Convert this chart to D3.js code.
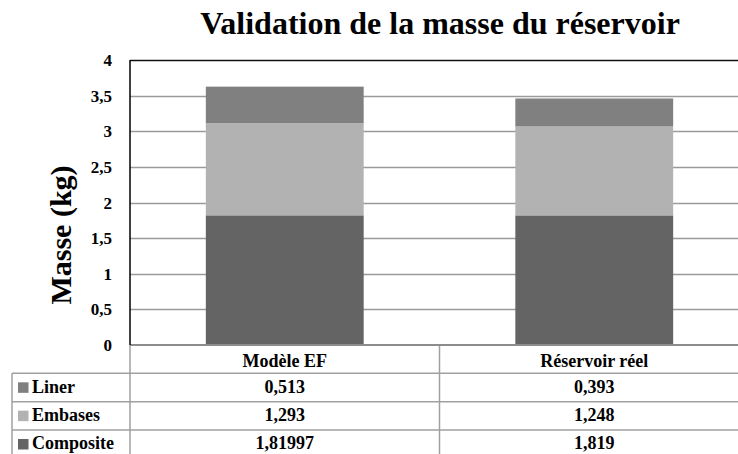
<!DOCTYPE html>
<html>
<head>
<meta charset="utf-8">
<script src="https://cdn.jsdelivr.net/npm/d3@7/dist/d3.min.js"></script>
</head>
<body style="margin:0;padding:0;background:#fff">
<svg id="chart" width="738" height="454" style="display:block"></svg>
<script>
// Mass breakdown of the tank: FE model vs. real part
const categories = ["Modèle EF", "Réservoir réel"];
const seriesNames = ["Liner", "Embases", "Composite"];      // table order (top to bottom)
const liner = [0.513, 0.393];
const embases = [1.293, 1.248];
const composite = [1.81997, 1.819];
const valueLabels = {
  Liner: ["0,513", "0,393"],
  Embases: ["1,293", "1,248"],
  Composite: ["1,81997", "1,819"]
};
const yTicks = [0, 0.5, 1, 1.5, 2, 2.5, 3, 3.5, 4];
const colors = { Liner: "#808080", Embases: "#b2b2b2", Composite: "#646464" };

const FONT = '"Liberation Serif"';
const svg = d3.select("#chart");
const W = 738, H = 454;

const plot = { left: 130, right: 749, top: 60, bottom: 345 };
const rowH = 28.33;
const tableLeft = 12;

const x = d3.scaleBand().domain(categories).range([plot.left, plot.right]);
const y = d3.scaleLinear().domain([0, 4]).range([plot.bottom, plot.top]);

const fmt = v => String(v).replace(".", ",");

function label(sel) {
  return sel.style("font-family", FONT).style("font-weight", "bold").attr("fill", "#000");
}

// Title
label(svg.append("text"))
  .attr("x", 440).attr("y", 34)
  .attr("text-anchor", "middle")
  .style("font-size", "32px")
  .text("Validation de la masse du réservoir");

// Y axis title
label(svg.append("text"))
  .attr("transform", "translate(71,235) rotate(-90)")
  .attr("text-anchor", "middle")
  .style("font-size", "30px")
  .text("Masse (kg)");

// Gridlines
svg.append("g").selectAll("line")
  .data(yTicks.filter(t => t > 0 && t < 4))
  .join("line")
  .attr("x1", plot.left).attr("x2", W)
  .attr("y1", d => Math.round(y(d)) + 0.5).attr("y2", d => Math.round(y(d)) + 0.5)
  .attr("stroke", "#9a9a9a").attr("stroke-width", 1.3);

// Top border of plot area
svg.append("line")
  .attr("x1", plot.left).attr("x2", W)
  .attr("y1", y(4) + 0.5).attr("y2", y(4) + 0.5)
  .attr("stroke", "#111").attr("stroke-width", 1.5);

// Stacked bars
const rows = categories.map((c, i) => ({
  cat: c, Composite: composite[i], Embases: embases[i], Liner: liner[i]
}));
const stack = d3.stack().keys(["Composite", "Embases", "Liner"])(rows);
const barW = x.bandwidth() * 0.51;

svg.append("g").selectAll("g")
  .data(stack)
  .join("g")
  .attr("fill", d => colors[d.key])
  .selectAll("rect")
  .data(d => d)
  .join("rect")
  .attr("x", d => x(d.data.cat) + (x.bandwidth() - barW) / 2)
  .attr("width", barW)
  .attr("y", d => y(d[1]))
  .attr("height", d => y(d[0]) - y(d[1]));

// Y tick labels
label(svg.append("g").selectAll("text")
  .data(yTicks)
  .join("text"))
  .attr("x", 112).attr("y", d => y(d) + 6)
  .attr("text-anchor", "end")
  .style("font-size", "17px")
  .text(d => fmt(d));

// Data table grid
const tg = svg.append("g").attr("stroke", "#a0a0a0").attr("stroke-width", 1.5);
seriesNames.forEach((s, i) => {
  const yy = plot.bottom + rowH * (i + 1);
  tg.append("line").attr("x1", tableLeft).attr("x2", W).attr("y1", yy).attr("y2", yy);
});
tg.append("line").attr("x1", tableLeft).attr("x2", tableLeft)
  .attr("y1", plot.bottom + rowH).attr("y2", H);
tg.append("line").attr("x1", plot.left).attr("x2", plot.left)
  .attr("y1", plot.bottom).attr("y2", H);
tg.append("line").attr("x1", x(categories[1])).attr("x2", x(categories[1]))
  .attr("y1", plot.bottom).attr("y2", H);

// Category axis line (zero)
svg.append("line")
  .attr("x1", plot.left).attr("x2", W)
  .attr("y1", plot.bottom).attr("y2", plot.bottom)
  .attr("stroke", "#8c8c8c").attr("stroke-width", 2);

// Value axis line
svg.append("line")
  .attr("x1", plot.left).attr("x2", plot.left)
  .attr("y1", plot.top).attr("y2", plot.bottom)
  .attr("stroke", "#000").attr("stroke-width", 1.5);

// Category header labels
label(svg.append("g").selectAll("text")
  .data(categories)
  .join("text"))
  .attr("x", d => x(d) + x.bandwidth() / 2)
  .attr("y", plot.bottom + 22)
  .attr("text-anchor", "middle")
  .style("font-size", "18px")
  .text(d => d);

// Series rows: legend key, name and values
seriesNames.forEach((s, i) => {
  const top = plot.bottom + rowH * (i + 1);
  svg.append("rect")
    .attr("x", 18).attr("y", top + 9).attr("width", 10.5).attr("height", 10.5)
    .attr("fill", colors[s]);
  label(svg.append("text"))
    .attr("x", 32).attr("y", top + 19.5)
    .style("font-size", "18px")
    .text(s);
  categories.forEach((c, j) => {
    label(svg.append("text"))
      .attr("x", x(c) + x.bandwidth() / 2).attr("y", top + 19.5)
      .attr("text-anchor", "middle")
      .style("font-size", "18px")
      .text(valueLabels[s][j]);
  });
});
</script>
</body>
</html>
